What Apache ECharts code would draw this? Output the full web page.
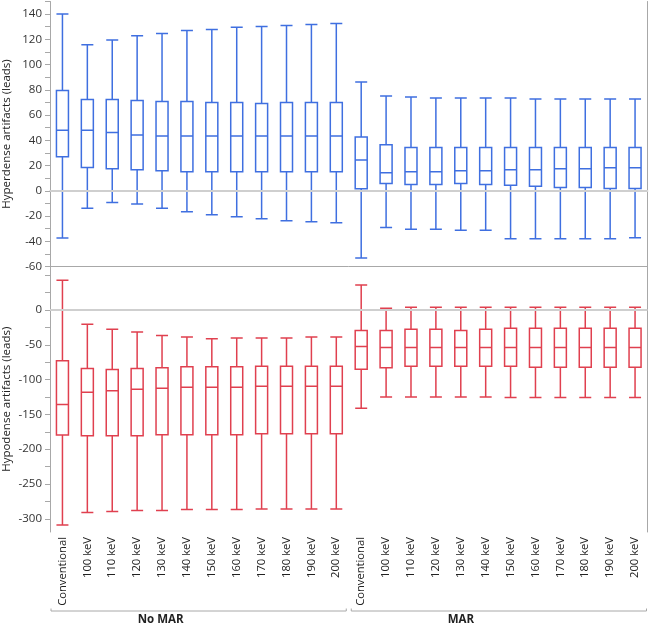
<!DOCTYPE html>
<html>
<head>
<meta charset="utf-8">
<script src="https://cdn.jsdelivr.net/npm/echarts@6/dist/echarts.min.js"></script>
<style>
html,body{margin:0;padding:0;background:#fff;}
#chart{width:649px;height:624px;}
</style>
</head>
<body>
<div id="chart"></div>
<script>
// ---- data ----
const categories = ['Conventional','100 keV','110 keV','120 keV','130 keV','140 keV','150 keV','160 keV','170 keV','180 keV','190 keV','200 keV',
                    'Conventional','100 keV','110 keV','120 keV','130 keV','140 keV','150 keV','160 keV','170 keV','180 keV','190 keV','200 keV'];
const groups = ['No MAR','MAR'];

const hyperMax = [140, 115.8, 119.4, 122.9, 124.7, 127.1, 127.9, 129.5, 130.2, 131, 131.8, 132.6, 86.2, 75.1, 74.3, 73.5, 73.5, 73.5, 73.5, 72.8, 72.8, 72.8, 72.8, 72.8];
const hyperQ3  = [79.4, 72.3, 72.3, 71.5, 70.7, 70.7, 69.9, 69.9, 69.1, 69.9, 69.9, 69.9, 42.7, 36.4, 34.3, 34.3, 34.3, 34.3, 34.3, 34.3, 34.3, 34.3, 34.3, 34.3];
const hyperMed = [48, 48, 46.2, 44.3, 43.5, 43.5, 43.5, 43.5, 43.5, 43.5, 43.5, 43.5, 24.3, 14.2, 15, 15, 15.8, 15.8, 16.6, 16.6, 17.4, 17.4, 18.2, 18.2];
const hyperQ1  = [26.9, 18.5, 17.4, 16.6, 15.8, 15, 15, 15, 15, 15, 15, 15, 1.6, 5.8, 5, 5, 5.8, 5, 4.3, 3.5, 2.7, 2.7, 1.9, 1.9];
const hyperMin = [-37.4, -13.9, -9.2, -10.5, -13.9, -16.6, -19, -20.6, -22.1, -23.7, -24.5, -25.3, -53.2, -29, -30.5, -30.5, -31.3, -31.3, -38, -38, -38, -38, -38, -37.2];

const hypoMax = [42.8, -20.6, -27.8, -31.7, -36.5, -38.9, -41.3, -40.3, -40.3, -40.3, -38.9, -38.9, 36, 2.4, 3.8, 3.8, 3.8, 3.8, 3.8, 3.8, 3.8, 3.8, 3.8, 3.8];
const hypoQ3  = [-73, -84, -85.5, -84, -83.1, -81.6, -81.6, -81.6, -80.7, -80.7, -80.7, -80.7, -29.3, -29.3, -27.8, -27.8, -29.3, -27.8, -26.4, -26.4, -26.4, -26.4, -26.4, -26.4];
const hypoMed = [-135.9, -118.2, -116.2, -113.8, -112.4, -111, -111, -111, -109.5, -109.5, -109.5, -109.5, -52.3, -53.8, -53.8, -53.8, -53.8, -53.8, -53.8, -53.8, -53.8, -53.8, -53.8, -53.8];
const hypoQ1  = [-179.6, -180.6, -180.6, -180.6, -179.1, -179.1, -179.1, -179.1, -177.7, -177.7, -177.7, -177.7, -85, -83.1, -80.7, -80.7, -80.7, -80.7, -80.7, -82.1, -82.1, -82.1, -82.1, -82.1];
const hypoMin = [-308.8, -291, -289.6, -288.2, -288.2, -286.7, -286.7, -286.7, -285.8, -285.8, -285.8, -285.8, -141.2, -124.9, -124.9, -124.9, -124.9, -124.9, -125.8, -125.8, -125.8, -125.8, -125.8, -125.8];

const topTickLabels = [-60, -40, -20, 0, 20, 40, 60, 80, 100, 120, 140];
const topTicks = [-60, -50, -40, -30, -20, -10, 0, 10, 20, 30, 40, 50, 60, 70, 80, 90, 100, 110, 120, 130, 140, 150];
const bottomTickLabels = [-300, -250, -200, -150, -100, -50, 0];
const bottomTicks = [-300, -275, -250, -225, -200, -175, -150, -125, -100, -75, -50, -25, 0, 25, 50];

// ---- build ----
const hyperData = categories.map((c, i) => [hyperMin[i], hyperQ1[i], hyperMed[i], hyperQ3[i], hyperMax[i]]);
const hypoData = categories.map((c, i) => [hypoMin[i], hypoQ1[i], hypoMed[i], hypoQ3[i], hypoMax[i]]);

const FONT = 'Open Sans';
const BLUE = '#3f6fe0';
const RED = '#e0404f';
const FRAME = '#a8a8a8';

const chart = echarts.init(document.getElementById('chart'), null, {renderer: 'canvas'});

function frameX(gridIndex, position, color, width) {
  return {
    type: 'category', gridIndex, position, data: categories, boundaryGap: true,
    axisLine: {show: true, lineStyle: {color, width}},
    axisTick: {show: false}, axisLabel: {show: false}, splitLine: {show: false}
  };
}
function frameY(gridIndex) {
  return {
    type: 'value', gridIndex, position: 'right',
    axisLine: {show: true, onZero: false, lineStyle: {color: FRAME, width: 1}},
    axisTick: {show: false}, axisLabel: {show: false}, splitLine: {show: false}
  };
}
const zeroLine = {
  silent: true, symbol: 'none', label: {show: false},
  lineStyle: {color: '#cfcfcf', width: 2, type: 'solid'},
  data: [{yAxis: 0}]
};

const option = {
  animation: false,
  backgroundColor: '#fff',
  textStyle: {fontFamily: FONT},
  grid: [
    {left: 50, right: 1.5, top: 1.5, height: 265, containLabel: false, outerBoundsMode: 'none'},
    {left: 50, right: 1.5, top: 266.5, bottom: 92, containLabel: false, outerBoundsMode: 'none'}
  ],
  xAxis: [
    frameX(0, 'bottom', '#dedede', 2),
    frameX(0, 'top', FRAME, 1),
    {
      type: 'category', gridIndex: 1, position: 'bottom', data: categories, boundaryGap: true,
      axisLine: {show: true, lineStyle: {color: FRAME, width: 1}},
      axisTick: {show: false}, splitLine: {show: false},
      axisLabel: {interval: 0, rotate: 90, margin: 5, color: '#222', fontSize: 11.2, fontFamily: FONT}
    }
  ],
  yAxis: [
    {
      type: 'value', gridIndex: 0, min: -60, max: 150,
      name: 'Hyperdense artifacts (leads)', nameLocation: 'middle', nameGap: 37, nameMoveOverlap: false,
      nameTextStyle: {color: '#222', fontSize: 11.5, fontFamily: FONT},
      axisLine: {show: true, onZero: false, lineStyle: {color: FRAME}},
      axisTick: {show: true, length: 5, customValues: topTicks, lineStyle: {color: FRAME}},
      axisLabel: {customValues: topTickLabels, color: '#333', fontSize: 11.5, margin: 8, fontFamily: FONT},
      splitLine: {show: false}
    },
    frameY(0),
    {
      type: 'value', gridIndex: 1, min: -319, max: 62.5,
      name: 'Hypodense artifacts (leads)', nameLocation: 'middle', nameGap: 37, nameMoveOverlap: false,
      nameTextStyle: {color: '#222', fontSize: 11.5, fontFamily: FONT},
      axisLine: {show: true, onZero: false, lineStyle: {color: FRAME}},
      axisTick: {show: true, length: 5, customValues: bottomTicks, lineStyle: {color: FRAME}},
      axisLabel: {customValues: bottomTickLabels, color: '#333', fontSize: 11.5, margin: 8, fontFamily: FONT},
      splitLine: {show: false}
    },
    frameY(1)
  ],
  series: [
    {
      name: 'Hyperdense', type: 'boxplot', xAxisIndex: 0, yAxisIndex: 0,
      data: hyperData, boxWidth: [12, 12],
      itemStyle: {color: '#fff', borderColor: BLUE, borderWidth: 1.5},
      markLine: zeroLine, z: 3
    },
    {
      name: 'Hypodense', type: 'boxplot', xAxisIndex: 2, yAxisIndex: 2,
      data: hypoData, boxWidth: [12, 12],
      itemStyle: {color: '#fff', borderColor: RED, borderWidth: 1.5},
      markLine: zeroLine, z: 3
    }
  ]
};
chart.setOption(option);

// ---- group brackets under the category labels ----
const x0 = chart.convertToPixel({xAxisIndex: 2}, 0);
const x1 = chart.convertToPixel({xAxisIndex: 2}, 1);
const band = x1 - x0;
const per = categories.length / groups.length;
const graphics = [];
const yLine = 611, yText = 620;
groups.forEach((g, gi) => {
  const left = x0 - band / 2 + gi * per * band + (gi === 0 ? 1 : 2.5);
  const right = x0 - band / 2 + (gi + 1) * per * band - (gi === 0 ? 2.5 : 1);
  graphics.push({type: 'polyline', silent: true,
    shape: {points: [[left, yLine - 2.5], [left, yLine], [right, yLine], [right, yLine - 2.5]]},
    style: {stroke: FRAME, lineWidth: 1, fill: null}});
  const center = (left + right) / 2 - 38;
  graphics.push({type: 'text', silent: true, x: center, y: yText,
    style: {text: g, font: 'bold 11.5px "' + FONT + '"', fill: '#222', align: 'center', verticalAlign: 'middle'}});
});
chart.setOption({graphic: graphics});
</script>
</body>
</html>
